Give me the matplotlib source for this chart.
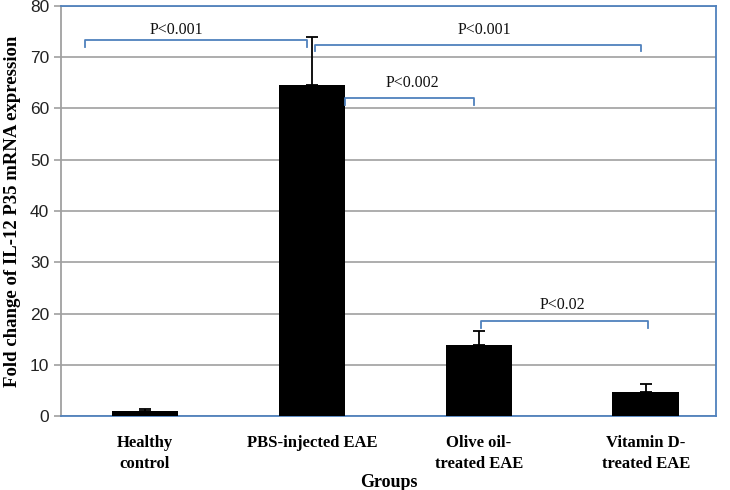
import matplotlib
matplotlib.use("Agg")
import matplotlib.pyplot as plt

categories = ["Healthy\ncontrol", "PBS-injected EAE", "Olive oil-\ntreated EAE", "Vitamin D-\ntreated EAE"]
values = [1.0, 64.5, 13.8, 4.6]
errors = [0.3, 9.5, 2.7, 1.7]

# brackets: (x_start, x_end, y_line, y_tip, label, label_x, label_y)
br_x0 = [-0.36, 1.02, 1.20, 2.01]
br_x1 = [0.97, 2.97, 1.97, 3.01]
br_y = [73.3, 72.3, 62.0, 18.5]
br_tip = [72.0, 71.3, 60.6, 17.2]
br_labels = ["P<0.001", "P<0.001", "P<0.002", "P<0.02"]
lab_x = [0.19, 2.03, 1.60, 2.5]
lab_y = [75.4, 75.4, 65.0, 21.7]

fig = plt.figure(figsize=(7.3, 4.9), dpi=100)
ax = fig.add_axes([61/730, 1-416/490, (716-61)/730, (416-6)/490])

blue = "#4f81bd"
grid = "#a0a0a0"
x = list(range(len(categories)))
ax.bar(x, values, width=0.4, color="black", zorder=3)
ax.errorbar(x, values, yerr=[[0]*len(errors), errors], fmt="none",
            ecolor="black", elinewidth=1.3, capsize=4, capthick=1.3, zorder=4)

ax.set_ylim(0, 80)
ax.set_xlim(-0.503, 3.42)
ax.set_yticks(range(0, 81, 10))
ax.yaxis.grid(True, color=grid, linewidth=1.2, zorder=0)
ax.set_axisbelow(True)
for s in ["top", "right", "bottom"]:
    ax.spines[s].set_color(blue)
    ax.spines[s].set_linewidth(1.3)
ax.spines["left"].set_color(grid)
ax.spines["left"].set_linewidth(1.3)
ax.tick_params(axis="y", direction="out", length=5, color=grid, width=1.2,
               labelsize=12.5, labelcolor="#222222")
for t in ax.get_yticklabels():
    t.set_fontfamily("Liberation Sans")
ax.tick_params(axis="x", length=0, pad=14)
ax.set_xticks(x)
ax.set_xticklabels(categories, fontfamily="Liberation Serif", fontweight="bold",
                   fontsize=12, linespacing=1.4)

ax.set_xlabel("Groups", fontfamily="Liberation Serif", fontweight="bold", fontsize=13, labelpad=1)
ax.set_ylabel("Fold change of IL-12 P35 mRNA expression", fontfamily="Liberation Serif",
              fontweight="bold", fontsize=13.5, labelpad=6)

for i in range(len(br_labels)):
    ax.plot([br_x0[i], br_x0[i], br_x1[i], br_x1[i]],
            [br_tip[i], br_y[i], br_y[i], br_tip[i]],
            color=blue, linewidth=1.3, zorder=5, clip_on=False)
    ax.text(lab_x[i], lab_y[i], br_labels[i], ha="center", va="center",
            fontfamily="Liberation Serif", fontsize=11.5, color="#111111", zorder=6)

fig.savefig("out.png", dpi=100)
